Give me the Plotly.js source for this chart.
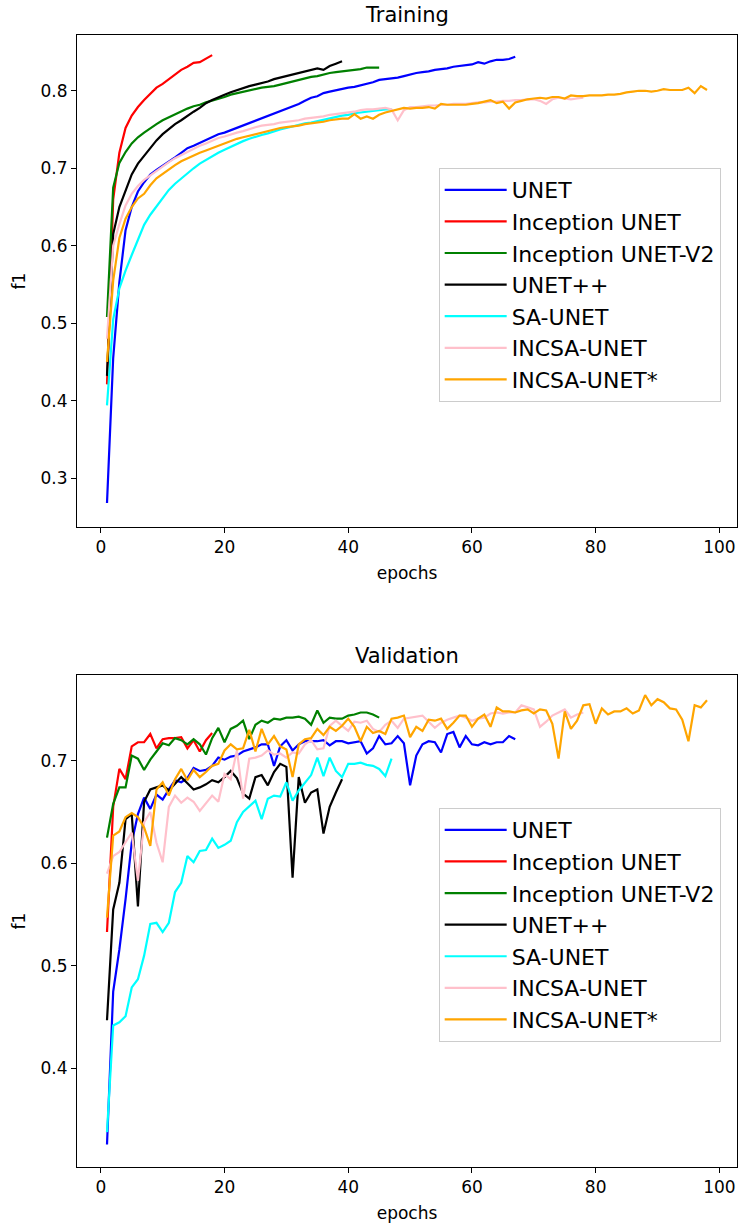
<!DOCTYPE html>
<html>
<head>
<meta charset="utf-8">
<script src="https://cdn.plot.ly/plotly-3.0.1.min.js"></script>
<style>html,body{margin:0;padding:0;background:#fff;}#chart{width:741px;height:1229px;}</style>
</head>
<body>
<div id="chart"></div>
<script>
// Series names, in plotting order
const seriesNames = ["UNET", "Inception UNET", "Inception UNET-V2", "UNET++", "SA-UNET", "INCSA-UNET", "INCSA-UNET*"];
const seriesColors = ["#0000ff", "#ff0000", "#008000", "#000000", "#00ffff", "#ffc0cb", "#ffa500"];
const xTicks = [0, 20, 40, 60, 80, 100];

// ---- Training f1 per epoch (epoch 1..N) ----
const trainUnet = [0.268,0.455,0.553,0.620,0.650,0.670,0.682,0.692,0.698,0.703,
0.709,0.714,0.720,0.726,0.729,0.733,0.737,0.741,0.744,0.746,
0.749,0.752,0.755,0.758,0.761,0.765,0.768,0.771,0.774,0.777,
0.780,0.783,0.787,0.791,0.793,0.797,0.799,0.801,0.802,0.804,
0.805,0.807,0.809,0.811,0.814,0.815,0.816,0.817,0.819,0.821,
0.823,0.824,0.825,0.827,0.828,0.829,0.831,0.832,0.833,0.834,
0.837,0.835,0.838,0.840,0.840,0.841,0.844];
const trainInception = [0.421,0.660,0.720,0.752,0.768,0.779,0.788,0.796,0.804,0.809,0.815,0.822,0.827,0.831,0.836,0.837,0.842,0.846];
const trainInceptionV2 = [0.508,0.675,0.707,0.721,0.732,0.740,0.746,0.752,0.757,0.762,
0.766,0.770,0.773,0.777,0.780,0.782,0.785,0.787,0.789,0.792,
0.795,0.797,0.799,0.801,0.802,0.804,0.805,0.806,0.808,0.810,
0.812,0.814,0.816,0.818,0.819,0.821,0.823,0.824,0.825,0.826,
0.827,0.828,0.830,0.830,0.830];
const trainUnetPP = [0.432,0.615,0.650,0.672,0.692,0.706,0.716,0.727,0.736,0.744,
0.751,0.757,0.762,0.768,0.773,0.778,0.784,0.788,0.792,0.795,
0.798,0.801,0.803,0.806,0.808,0.810,0.812,0.815,0.817,0.819,
0.821,0.823,0.825,0.827,0.829,0.827,0.832,0.835,0.838];
const trainSAUnet = [0.394,0.505,0.545,0.568,0.588,0.607,0.627,0.640,0.651,0.662,
0.672,0.680,0.687,0.694,0.700,0.706,0.711,0.716,0.720,0.724,
0.728,0.731,0.735,0.738,0.741,0.743,0.745,0.748,0.750,0.752,
0.754,0.756,0.758,0.759,0.761,0.763,0.765,0.767,0.768,0.769,
0.771,0.772,0.773,0.774,0.775,0.776,0.776];
const trainIncsa = [0.480,0.600,0.628,0.652,0.667,0.677,0.685,0.691,0.697,0.703,
0.708,0.713,0.717,0.722,0.726,0.729,0.732,0.736,0.739,0.741,
0.744,0.746,0.748,0.751,0.753,0.755,0.756,0.757,0.759,0.760,
0.761,0.762,0.764,0.765,0.766,0.767,0.769,0.770,0.771,0.772,
0.773,0.775,0.776,0.776,0.777,0.778,0.776,0.762,0.775,0.779,
0.779,0.780,0.781,0.781,0.782,0.782,0.783,0.783,0.783,0.784,
0.785,0.785,0.786,0.786,0.787,0.787,0.788,0.788,0.789,0.789,
0.787,0.783,0.789,0.791,0.790,0.789,0.790,0.791];
const trainIncsaStar = [0.450,0.555,0.610,0.635,0.650,0.661,0.667,0.678,0.687,0.693,
0.699,0.704,0.709,0.713,0.717,0.720,0.723,0.726,0.729,0.732,
0.735,0.738,0.740,0.742,0.744,0.746,0.748,0.750,0.752,0.753,
0.754,0.755,0.757,0.758,0.759,0.760,0.762,0.763,0.764,0.764,
0.770,0.764,0.767,0.764,0.769,0.772,0.774,0.776,0.778,0.777,
0.778,0.778,0.779,0.777,0.783,0.782,0.782,0.782,0.782,0.783,
0.784,0.786,0.788,0.784,0.786,0.777,0.785,0.787,0.789,0.790,
0.791,0.790,0.792,0.792,0.790,0.794,0.793,0.793,0.794,0.794,
0.794,0.795,0.795,0.796,0.798,0.799,0.800,0.800,0.799,0.800,
0.802,0.801,0.801,0.801,0.804,0.797,0.806,0.801];

// ---- Validation f1 per epoch (epoch 1..N) ----
const valUnet = [0.326,0.475,0.516,0.565,0.620,0.648,0.664,0.653,0.667,0.662,
0.672,0.681,0.679,0.683,0.693,0.690,0.691,0.695,0.703,0.701,
0.704,0.705,0.709,0.711,0.713,0.716,0.716,0.695,0.714,0.720,
0.710,0.716,0.719,0.719,0.719,0.720,0.715,0.719,0.719,0.717,
0.718,0.719,0.707,0.712,0.724,0.716,0.717,0.724,0.717,0.676,
0.705,0.716,0.719,0.718,0.708,0.726,0.728,0.713,0.724,0.716,
0.715,0.718,0.716,0.718,0.718,0.724,0.721];
const valInception = [0.533,0.655,0.692,0.682,0.714,0.718,0.718,0.726,0.712,0.721,0.722,0.722,0.723,0.712,0.720,0.709,0.720,0.727];
const valInceptionV2 = [0.625,0.658,0.674,0.674,0.705,0.702,0.691,0.701,0.709,0.717,
0.715,0.722,0.720,0.716,0.721,0.716,0.706,0.722,0.732,0.718,
0.731,0.734,0.739,0.721,0.735,0.739,0.737,0.741,0.740,0.742,
0.742,0.743,0.741,0.735,0.749,0.737,0.742,0.741,0.741,0.744,
0.745,0.747,0.747,0.745,0.742];
const valUnetPP = [0.447,0.555,0.581,0.643,0.648,0.558,0.660,0.672,0.674,0.676,
0.671,0.678,0.684,0.678,0.672,0.674,0.677,0.681,0.679,0.684,
0.690,0.683,0.668,0.663,0.684,0.686,0.676,0.689,0.697,0.694,
0.586,0.684,0.659,0.669,0.672,0.629,0.655,0.669,0.682];
const valSAUnet = [0.338,0.442,0.445,0.451,0.479,0.487,0.510,0.541,0.542,0.533,
0.542,0.572,0.581,0.607,0.601,0.612,0.613,0.624,0.615,0.618,
0.622,0.640,0.650,0.656,0.661,0.643,0.663,0.666,0.665,0.679,
0.661,0.671,0.678,0.686,0.703,0.685,0.703,0.690,0.684,0.697,
0.697,0.698,0.696,0.695,0.692,0.685,0.702];
const valIncsa = [0.590,0.607,0.611,0.620,0.630,0.583,0.640,0.650,0.620,0.601,
0.655,0.666,0.659,0.664,0.660,0.651,0.658,0.666,0.660,0.687,
0.682,0.710,0.663,0.702,0.703,0.705,0.710,0.706,0.707,0.703,
0.708,0.707,0.716,0.720,0.711,0.712,0.734,0.739,0.734,0.729,
0.738,0.737,0.739,0.731,0.728,0.735,0.739,0.732,0.741,0.742,
0.743,0.744,0.738,0.732,0.737,0.740,0.742,0.744,0.742,0.739,
0.741,0.742,0.746,0.747,0.746,0.747,0.747,0.754,0.752,0.750,
0.733,0.738,0.744,0.747,0.750,0.742,0.745,0.747];
const valIncsaStar = [0.547,0.627,0.631,0.645,0.649,0.645,0.635,0.617,0.672,0.679,
0.666,0.682,0.692,0.681,0.691,0.684,0.689,0.695,0.697,0.710,
0.716,0.711,0.712,0.730,0.709,0.731,0.716,0.724,0.714,0.711,
0.684,0.716,0.721,0.722,0.731,0.725,0.733,0.729,0.734,0.741,
0.733,0.719,0.733,0.727,0.729,0.726,0.741,0.742,0.744,0.723,
0.733,0.729,0.740,0.739,0.741,0.731,0.737,0.744,0.744,0.733,
0.741,0.745,0.733,0.752,0.748,0.748,0.747,0.749,0.750,0.746,
0.750,0.749,0.736,0.702,0.748,0.731,0.739,0.754,0.755,0.736,
0.751,0.745,0.748,0.748,0.751,0.746,0.749,0.764,0.754,0.760,
0.757,0.751,0.750,0.740,0.719,0.754,0.752,0.759];

const trainSeries = [trainUnet, trainInception, trainInceptionV2, trainUnetPP, trainSAUnet, trainIncsa, trainIncsaStar];
const valSeries = [valUnet, valInception, valInceptionV2, valUnetPP, valSAUnet, valIncsa, valIncsaStar];

const FONT = "DejaVu Sans, Liberation Sans, sans-serif";
const epochsOf = arr => arr.map((_, i) => i + 1);

const traces = [];
trainSeries.forEach((ys, k) => {
  traces.push({type: "scatter", mode: "lines", x: epochsOf(ys), y: ys, name: seriesNames[k],
    line: {color: seriesColors[k], width: 2.2}, xaxis: "x", yaxis: "y", legend: "legend"});
});
valSeries.forEach((ys, k) => {
  traces.push({type: "scatter", mode: "lines", x: epochsOf(ys), y: ys, name: seriesNames[k],
    line: {color: seriesColors[k], width: 2.2}, xaxis: "x2", yaxis: "y2", legend: "legend2"});
});

const axisBase = {
  showline: true, mirror: true, linecolor: "#000", linewidth: 1,
  ticks: "outside", ticklen: 5, tickwidth: 1, tickcolor: "#000",
  showgrid: false, zeroline: false,
  tickfont: {family: FONT, size: 17, color: "#000"}
};
const xBase = Object.assign({}, axisBase, {range: [-3.85, 102.85], tickmode: "array", tickvals: xTicks,
  title: {text: "epochs", font: {family: FONT, size: 17, color: "#000"}, standoff: 10}});
const yBase = Object.assign({}, axisBase, {dtick: 0.1, tickformat: ".1f",
  title: {text: "f1", font: {family: FONT, size: 17, color: "#000"}, standoff: 10}});

const legendBase = {
  x: 0.548, xanchor: "left", yanchor: "top", xref: "paper", yref: "paper",
  bgcolor: "rgba(255,255,255,0.8)", bordercolor: "#cccccc", borderwidth: 1,
  font: {family: FONT, size: 22, color: "#000"}, itemwidth: 62, tracegroupgap: 0
};

const layout = {
  width: 741, height: 1229,
  margin: {l: 77, r: 4, t: 35, b: 62},
  paper_bgcolor: "#fff", plot_bgcolor: "#fff",
  font: {family: FONT, color: "#000"},
  showlegend: true,
  xaxis: Object.assign({}, xBase, {domain: [0, 1], anchor: "y"}),
  yaxis: Object.assign({}, yBase, {domain: [0.5654, 1], anchor: "x", range: [0.237, 0.872]}),
  xaxis2: Object.assign({}, xBase, {domain: [0, 1], anchor: "y2"}),
  yaxis2: Object.assign({}, yBase, {domain: [0, 0.4346], anchor: "x2", range: [0.304, 0.7835]}),
  legend: Object.assign({}, legendBase, {y: 0.8825}),
  legend2: Object.assign({}, legendBase, {y: 0.3171}),
  annotations: [
    {text: "Training", xref: "paper", yref: "paper", x: 0.5, y: 1.0177, xanchor: "center", yanchor: "middle",
     showarrow: false, font: {family: FONT, size: 21, color: "#000"}},
    {text: "Validation", xref: "paper", yref: "paper", x: 0.5, y: 0.4514, xanchor: "center", yanchor: "middle",
     showarrow: false, font: {family: FONT, size: 21, color: "#000"}}
  ]
};

Plotly.newPlot("chart", traces, layout, {displayModeBar: false, staticPlot: true});
</script>
</body>
</html>
